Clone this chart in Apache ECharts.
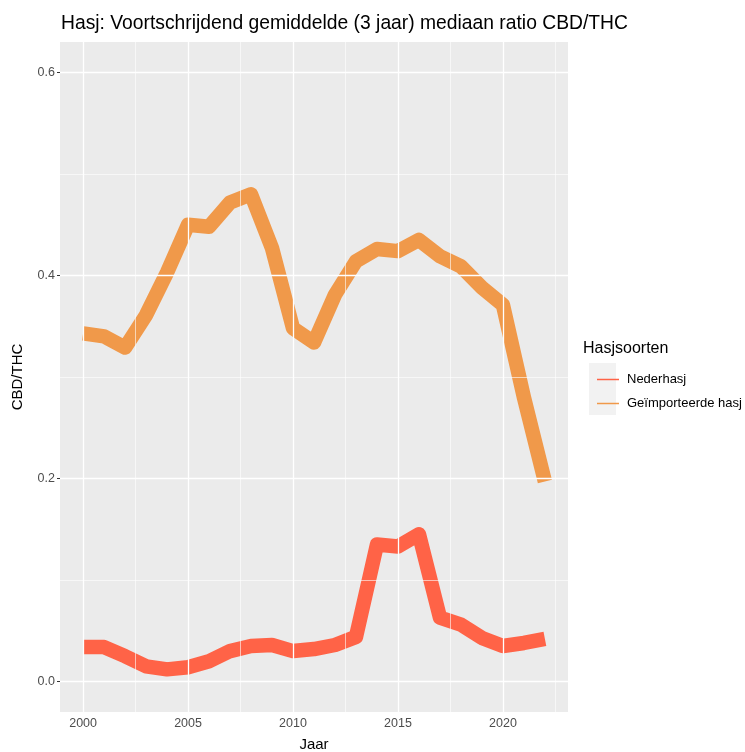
<!DOCTYPE html>
<html>
<head>
<meta charset="utf-8">
<script src="https://cdn.jsdelivr.net/npm/echarts@6/dist/echarts.min.js"></script>
<style>
  html, body { margin: 0; padding: 0; background: #fff; }
  #chart { width: 745px; height: 752px; }
</style>
</head>
<body>
<div id="chart"></div>
<script>
// Years on the x axis
const years = [2000, 2001, 2002, 2003, 2004, 2005, 2006, 2007, 2008, 2009, 2010,
               2011, 2012, 2013, 2014, 2015, 2016, 2017, 2018, 2019, 2020, 2021, 2022];

// 3-year moving average of median CBD/THC ratio
const nederhasj = [0.034, 0.034, 0.025, 0.015, 0.012, 0.014, 0.020, 0.030, 0.035, 0.036, 0.030,
                   0.032, 0.036, 0.044, 0.135, 0.133, 0.145, 0.063, 0.056, 0.043, 0.035, 0.038, 0.042];
const geimporteerd = [0.343, 0.340, 0.329, 0.361, 0.403, 0.450, 0.448, 0.472, 0.480, 0.427, 0.348,
                      0.334, 0.381, 0.414, 0.426, 0.424, 0.435, 0.419, 0.409, 0.388, 0.371, 0.280, 0.197];

// Axis ticks and labels
const xTicks = [2000, 2005, 2010, 2015, 2020];
const xMinor = [2002.5, 2007.5, 2012.5, 2017.5, 2022.5];
const yTicks = [0, 0.2, 0.4, 0.6];
const yMinor = [0.1, 0.3, 0.5];

const seriesNames = ['Nederhasj', 'Geïmporteerde hasj'];
const seriesColors = ['#FF6347', '#F0994A'];

const font = 'Liberation Sans, Arial, Helvetica, sans-serif';

function pairs(values) {
  return years.map((y, i) => [y, values[i]]);
}

function gridLine(axis, v, width) {
  return { [axis]: v, lineStyle: { color: '#FFFFFF', width: width, type: 'solid' } };
}

const gridLines = []
  .concat(xMinor.map(v => gridLine('xAxis', v, 0.6)))
  .concat(yMinor.map(v => gridLine('yAxis', v, 0.6)))
  .concat(xTicks.map(v => gridLine('xAxis', v, 1.3)))
  .concat(yTicks.map(v => gridLine('yAxis', v, 1.3)));

const chart = echarts.init(document.getElementById('chart'), null, { renderer: 'canvas' });

chart.setOption({
  animation: false,
  backgroundColor: '#FFFFFF',
  textStyle: { fontFamily: font },
  title: {
    text: 'Hasj: Voortschrijdend gemiddelde (3 jaar) mediaan ratio CBD/THC',
    left: 56,
    top: 9,
    textStyle: { fontFamily: font, fontSize: 19.3, fontWeight: 'normal', color: '#000000' }
  },
  grid: {
    left: 60, right: 177, top: 42, bottom: 40,
    outerBoundsMode: 'none',
    containLabel: false,
    show: true, backgroundColor: '#EBEBEB', borderWidth: 0
  },
  xAxis: {
    type: 'value',
    min: 1998.9, max: 2023.1,
    name: 'Jaar',
    nameLocation: 'middle',
    nameGap: 25,
    nameTextStyle: { fontFamily: font, fontSize: 15, color: '#000000' },
    axisLine: { show: false },
    splitLine: { show: false },
    axisTick: { show: true, customValues: xTicks, length: 3, lineStyle: { color: '#333333', width: 1 } },
    axisLabel: {
      customValues: xTicks, color: '#4D4D4D', fontSize: 12.5, margin: 5,
      fontFamily: font, formatter: v => String(v)
    }
  },
  yAxis: {
    type: 'value',
    min: -0.03, max: 0.63,
    name: 'CBD/THC',
    nameLocation: 'middle',
    nameGap: 35,
    nameRotate: 90,
    nameTextStyle: { fontFamily: font, fontSize: 15, color: '#000000' },
    axisLine: { show: false },
    splitLine: { show: false },
    axisTick: { show: true, customValues: yTicks, length: 3, lineStyle: { color: '#333333', width: 1 } },
    axisLabel: {
      customValues: yTicks, color: '#4D4D4D', fontSize: 12.5, margin: 5,
      fontFamily: font, formatter: v => v.toFixed(1)
    }
  },
  legend: {
    data: seriesNames,
    orient: 'vertical',
    left: 592,
    top: 368,
    itemWidth: 22,
    itemHeight: 1.5,
    itemGap: 11,
    icon: 'rect',
    textStyle: { fontFamily: font, fontSize: 13, color: '#000000', padding: [0, 0, 0, 3] }
  },
  graphic: [
    {
      type: 'rect',
      left: 589, top: 363,
      shape: { width: 27, height: 52 },
      style: { fill: '#F2F2F2' },
      z: -1
    },
    {
      type: 'text',
      left: 583, top: 341,
      style: { text: 'Hasjsoorten', font: '16px ' + font, fill: '#000000' }
    }
  ],
  series: [
    {
      type: 'line',
      name: '__grid',
      data: [],
      silent: true,
      z: 1,
      markLine: {
        silent: true,
        symbol: ['none', 'none'],
        label: { show: false },
        emphasis: { disabled: true },
        data: gridLines
      }
    },
    {
      type: 'line',
      name: seriesNames[0],
      data: pairs(nederhasj),
      showSymbol: false,
      z: 3,
      color: seriesColors[0],
      itemStyle: { color: seriesColors[0] },
      lineStyle: { color: seriesColors[0], width: 14.5, join: 'round', cap: 'butt' }
    },
    {
      type: 'line',
      name: seriesNames[1],
      data: pairs(geimporteerd),
      showSymbol: false,
      z: 3,
      color: seriesColors[1],
      itemStyle: { color: seriesColors[1] },
      lineStyle: { color: seriesColors[1], width: 14.5, join: 'round', cap: 'butt' }
    }
  ]
});
</script>
</body>
</html>
